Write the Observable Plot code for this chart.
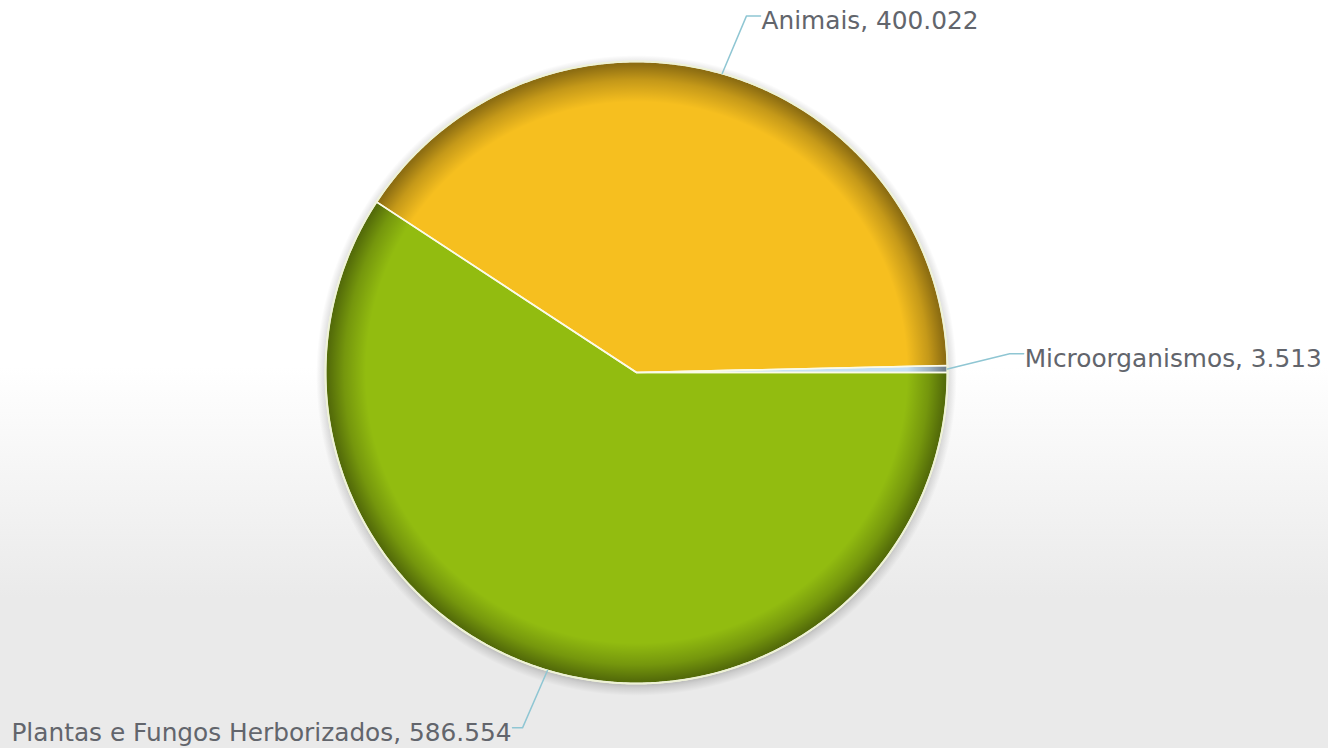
<!DOCTYPE html>
<html>
<head>
<meta charset="utf-8">
<script src="https://cdn.jsdelivr.net/npm/d3@7"></script>
<script src="https://cdn.jsdelivr.net/npm/@observablehq/plot@0.6"></script>
<style>
html, body { margin: 0; padding: 0; }
body { width: 1328px; height: 748px; overflow: hidden; }
</style>
</head>
<body>
<div id="chart"></div>
<script>
// ---- data ----
const categories = ["Plantas e Fungos Herborizados", "Animais", "Microorganismos"];
const values = [586554, 400022, 3513];
const colors = ["#92bc10", "#f6bf1f", "#c6e0f4"];

// ---- layout ----
const W = 1328, H = 748;
const cx = 636, cy = 372, R = 311;
const labelNudge = {"Microorganismos": -22}; // px, label collision offset
const fmt = d3.formatLocale({decimal: ",", thousands: ".", grouping: [3], currency: ["R$", ""]}).format(",d");

const data = categories.map((name, i) => ({name, value: values[i]}));
const pie = d3.pie().sort(null).value(d => d.value)
  .startAngle(Math.PI / 2).endAngle(Math.PI / 2 + 2 * Math.PI);
const arcs = pie(data);
const polar = (a, r) => [r * Math.sin(a), -r * Math.cos(a)];

const slicePts = arcs.flatMap(a => {
  const n = Math.max(2, Math.ceil((a.endAngle - a.startAngle) / (Math.PI / 720)));
  const pts = [{name: a.data.name, x: 0, y: 0}];
  for (let i = 0; i <= n; i++) {
    const t = a.startAngle + (a.endAngle - a.startAngle) * i / n;
    const [x, y] = polar(t, 1);
    pts.push({name: a.data.name, x, y});
  }
  return pts;
});

const circle = (r) => d3.range(0, 721).map(i => {
  const [x, y] = polar(i * Math.PI / 360, r);
  return {x, y};
});

const leaderPts = [];
const labels = [];
arcs.forEach(a => {
  const m = (a.startAngle + a.endAngle) / 2;
  const side = Math.sin(m) >= 0 ? 1 : -1;
  const [x0, y0] = polar(m, 1);
  const [x1, y1raw] = polar(m + 0.02, 1.2);
  const y1 = y1raw + (labelNudge[a.data.name] || 0) / R;
  const x2 = x1 + side * (side > 0 ? 14 : 10) / R;
  leaderPts.push({name: a.data.name, x: x0, y: y0}, {name: a.data.name, x: x1, y: y1}, {name: a.data.name, x: x2, y: y1});
  labels.push({name: a.data.name, x: x2, y: y1, side, text: `${a.data.name}, ${fmt(a.data.value)}`});
});

const font = "'DejaVu Sans', Verdana, sans-serif";

const svg = Plot.plot({
  width: W, height: H, margin: 0,
  x: {domain: [-cx / R, (W - cx) / R], range: [0, W], axis: null},
  y: {domain: [-cy / R, (H - cy) / R], range: [0, H], axis: null},
  color: {domain: categories, range: colors},
  style: {
    background: "linear-gradient(to bottom, #ffffff 0%, #ffffff 49%, #eaeaea 80%, #eaeaea 100%)",
    fontFamily: font
  },
  marks: [
    // drop shadow
    Plot.line(circle(1.03), {x: "x", y: "y", curve: "linear-closed", fill: "url(#shadowGrad)", stroke: "none", dy: 3}),
    // slices
    Plot.line(slicePts, {x: "x", y: "y", z: "name", fill: "name", stroke: "none", curve: "linear-closed"}),
    // rim shading
    Plot.line(circle(1), {x: "x", y: "y", curve: "linear-closed", fill: "url(#rimGrad)", stroke: "none"}),
    // slice borders
    Plot.line(slicePts, {x: "x", y: "y", z: "name", fill: "none", stroke: "#fbfbe8", strokeWidth: 1.6, curve: "linear-closed"}),
    // outer edge
    Plot.line(circle(1), {x: "x", y: "y", curve: "linear-closed", fill: "none", stroke: "#eef2d6", strokeWidth: 2}),
    // leaders
    Plot.line(leaderPts, {x: "x", y: "y", z: "name", stroke: "#8fc6d3", strokeWidth: 1.5}),
    // labels
    Plot.text(labels.filter(d => d.side > 0), {x: "x", y: "y", text: "text", textAnchor: "start", dx: 1, dy: 5, fontSize: 24.8, fill: "#62656c", fontFamily: font}),
    Plot.text(labels.filter(d => d.side < 0), {x: "x", y: "y", text: "text", textAnchor: "end", dx: -1, dy: 5, fontSize: 24.8, fill: "#62656c", fontFamily: font})
  ]
});

const defs = d3.select(svg).insert("defs", ":first-child");
const rim = defs.append("radialGradient").attr("id", "rimGrad").attr("cx", "50%").attr("cy", "50%").attr("r", "50%");
[[0, 0], [0.87, 0], [0.94, 0.2], [0.99, 0.42], [1, 0.44]].forEach(([o, a]) =>
  rim.append("stop").attr("offset", o).attr("stop-color", "#000").attr("stop-opacity", a));
const sh = defs.append("radialGradient").attr("id", "shadowGrad").attr("cx", "50%").attr("cy", "50%").attr("r", "50%");
[[0, 0.3], [0.95, 0.3], [0.975, 0.12], [1, 0]].forEach(([o, a]) =>
  sh.append("stop").attr("offset", o).attr("stop-color", "#000").attr("stop-opacity", a));

document.getElementById("chart").appendChild(svg);
</script>
</body>
</html>
